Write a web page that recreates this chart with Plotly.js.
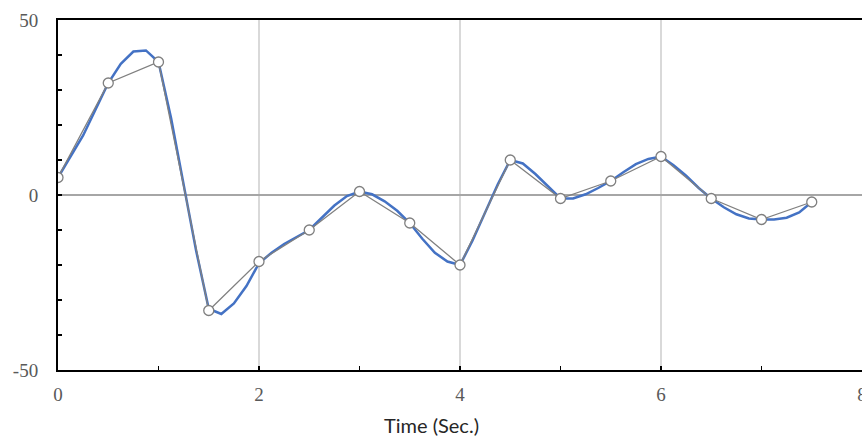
<!DOCTYPE html>
<html>
<head>
<meta charset="utf-8">
<script src="https://cdn.plot.ly/plotly-3.0.1.min.js"></script>
<style>html,body{margin:0;padding:0;background:#fff;}#chart{width:862px;height:438px;}</style>
</head>
<body>
<div id="chart"></div>
<script>
// Sampled (gray) series
const sampleTime = [0, 0.5, 1, 1.5, 2, 2.5, 3, 3.5, 4, 4.5, 5, 5.5, 6, 6.5, 7, 7.5];
const sampleValue = [5, 32, 38, -33, -19, -10, 1, -8, -20, 10, -1, 4, 11, -1, -7, -2];

// Continuous (blue) series
const signalTime = [0, 0.125, 0.25, 0.375, 0.5, 0.625, 0.75, 0.875, 1, 1.125, 1.25, 1.375, 1.5, 1.625, 1.75, 1.875,
  2, 2.125, 2.25, 2.375, 2.5, 2.625, 2.75, 2.875, 3, 3.125, 3.25, 3.375, 3.5, 3.625, 3.75, 3.875,
  4, 4.125, 4.25, 4.375, 4.5, 4.625, 4.75, 4.875, 5, 5.125, 5.25, 5.375, 5.5, 5.625, 5.75, 5.875,
  6, 6.125, 6.25, 6.375, 6.5, 6.625, 6.75, 6.875, 7, 7.125, 7.25, 7.375, 7.5];
const signalValue = [5, 11, 17, 24.5, 32, 37.5, 41, 41.3, 38, 22, 3.5, -16, -32.5, -34, -31, -26,
  -19.5, -16.5, -14, -12, -10, -6.5, -3, -0.3, 1, 0.2, -1.8, -4.5, -8, -12.5, -16.5, -19,
  -20, -13, -5, 3, 10, 9, 6, 2.5, -1, -1, 0.2, 2, 4, 6.5, 8.8, 10.3,
  11, 8.5, 5.5, 2, -1, -3.5, -5.5, -6.7, -7, -7, -6.5, -5, -2];

const xTickVals = [0, 2, 4, 6, 8];
const yTickVals = [-50, 0, 50];
const xTitle = 'Time (Sec.)';

const traces = [
  {
    x: signalTime, y: signalValue, type: 'scatter', mode: 'lines',
    line: {color: '#4472C4', width: 2.5}, hoverinfo: 'skip', showlegend: false
  },
  {
    x: sampleTime, y: sampleValue, type: 'scatter', mode: 'lines+markers',
    line: {color: '#808080', width: 1.3},
    marker: {size: 10, color: '#ffffff', line: {color: '#7f7f7f', width: 1.3}},
    showlegend: false
  }
];

const layout = {
  width: 862, height: 438,
  margin: {l: 58, r: 0, t: 20, b: 68},
  paper_bgcolor: '#ffffff', plot_bgcolor: '#ffffff',
  showlegend: false,
  xaxis: {
    range: [0, 8], tickvals: xTickVals, ticktext: xTickVals.map(String),
    showgrid: true, gridcolor: '#d9d9d9', gridwidth: 1.5,
    zeroline: false,
    showline: true, linecolor: '#000000', linewidth: 2, mirror: true,
    ticks: 'inside', ticklen: 4, tickcolor: '#000000', tickwidth: 1.3,
    minor: {dtick: 1, tick0: 0, ticks: 'inside', ticklen: 4, tickcolor: '#000000', tickwidth: 1.3, showgrid: false},
    tickfont: {family: 'Liberation Serif, Times New Roman, serif', size: 19, color: '#595959'},
    ticklabelstandoff: 6,
    ticklabeloverflow: 'allow'
  },
  yaxis: {
    range: [-50, 50], tickvals: yTickVals, ticktext: yTickVals.map(String),
    showgrid: false,
    zeroline: true, zerolinecolor: '#a6a6a6', zerolinewidth: 1.5,
    showline: true, linecolor: '#000000', linewidth: 2, mirror: false,
    ticks: 'inside', ticklen: 4, tickcolor: '#000000', tickwidth: 1.3,
    minor: {dtick: 10, tick0: 0, ticks: 'inside', ticklen: 4, tickcolor: '#000000', tickwidth: 1.3, showgrid: false},
    tickfont: {family: 'Liberation Serif, Times New Roman, serif', size: 19, color: '#595959'},
    ticklabelstandoff: 14
  },
  annotations: [{
    text: xTitle, xref: 'paper', yref: 'paper', x: 0.465, y: -0.157,
    xanchor: 'center', yanchor: 'middle', showarrow: false,
    font: {family: 'Lato, Liberation Sans, sans-serif', size: 20, color: '#262626'}
  }]
};

Plotly.newPlot('chart', traces, layout, {displayModeBar: false, staticPlot: true});
</script>
</body>
</html>
